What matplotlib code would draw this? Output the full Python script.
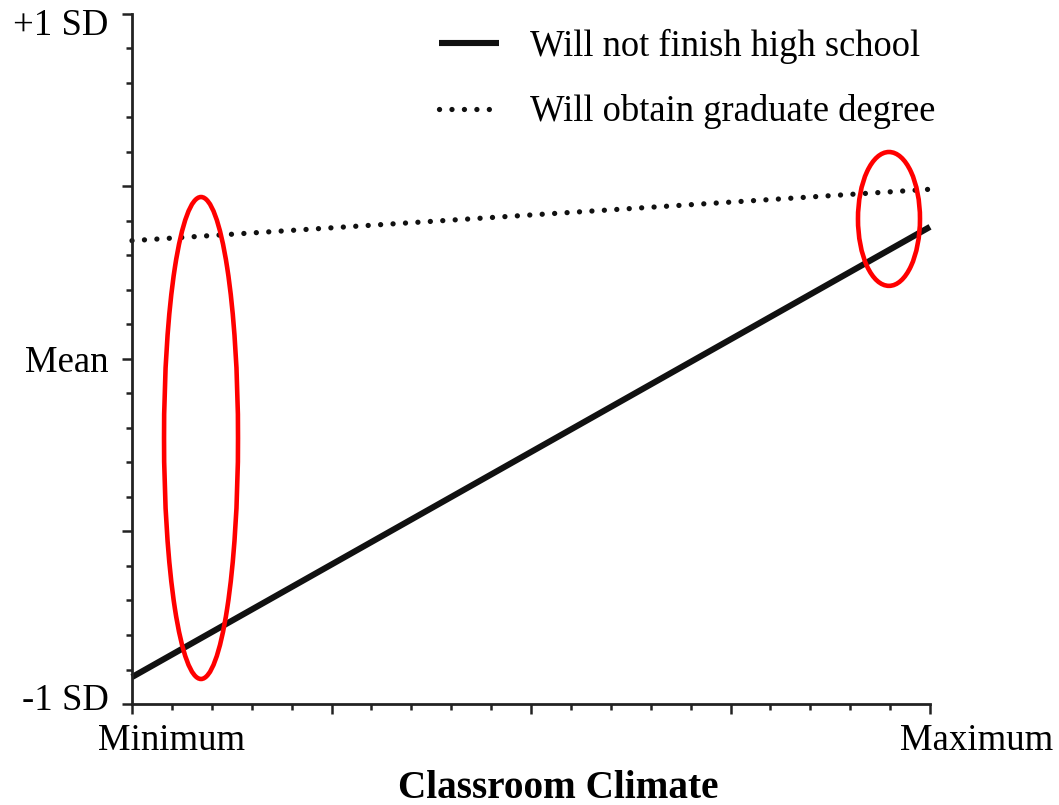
import matplotlib
matplotlib.use("Agg")
import matplotlib.pyplot as plt
import matplotlib.transforms as mtransforms
from matplotlib.patches import Ellipse

# climate range (0 = minimum, 1 = maximum) and predicted outcome in SD units
climate = [0.0, 1.0]
not_finish_hs = [-0.922, 0.383]
grad_degree = [0.343, 0.492]

x_tick_labels = ["Minimum", "Maximum"]
y_tick_values = [-1.0, 0.0, 1.0]
y_tick_labels = ["-1 SD", "Mean", "+1 SD"]

# highlighted regions: (center x, center y, width, height)
highlights = [(0.0865, -0.229, 0.0927, 1.397),
              (0.9486, 0.406, 0.0777, 0.388)]

plt.rcParams['font.family'] = ['Liberation Serif', 'DejaVu Serif']

fig = plt.figure(figsize=(10.59, 8.05), dpi=100)
ax = fig.add_axes([132/1059, 101/805, 798/1059, 690/805])

ax.plot(climate, not_finish_hs, color='#111111', lw=4.4, solid_capstyle='butt',
        label='Will not finish high school', clip_on=False)
ax.plot(climate, grad_degree, color='#111111', lw=3.8, dashes=(0.01, 2.35),
        dash_capstyle='round', label='Will obtain graduate degree', clip_on=False)

for cx, cy, w, h in highlights:
    ax.add_patch(Ellipse((cx, cy), w, h, fill=False, edgecolor='#ff0000', lw=3.3,
                         clip_on=False, zorder=5))

ax.set_xlim(0, 1)
ax.set_ylim(-1, 1)
for s in ['top', 'right']:
    ax.spines[s].set_visible(False)
for s in ['left', 'bottom']:
    ax.spines[s].set_linewidth(2.0)
    ax.spines[s].set_color('#222222')

ax.set_xticks([0, 0.25, 0.5, 0.75, 1.0])
ax.set_xticklabels([x_tick_labels[0], '', '', '', x_tick_labels[1]])
ax.set_xticks([i * 0.05 for i in range(21)], minor=True)
ax.set_yticks([-1, -0.5, 0, 0.5, 1])
ax.set_yticklabels([y_tick_labels[0], '', y_tick_labels[1], '', y_tick_labels[2]])
ax.set_yticks([i * 0.1 - 1 for i in range(21)], minor=True)

ax.tick_params(which='major', length=7, width=1.8, color='#222222', labelsize=26.5, pad=7)
ax.tick_params(which='minor', length=4.5, width=1.8, color='#222222')
ax.tick_params(axis='y', which='major', pad=10)

# nudge tick labels like the original
xl = ax.get_xticklabels()
offsets_x = {0: 40, 4: 47}
for i, dx in offsets_x.items():
    xl[i].set_transform(xl[i].get_transform() +
                        mtransforms.ScaledTranslation(dx/100, 0, fig.dpi_scale_trans))
yl = ax.get_yticklabels()
offsets_y = {0: 7, 4: -8}
for i, dy in offsets_y.items():
    yl[i].set_transform(yl[i].get_transform() +
                        mtransforms.ScaledTranslation(0, dy/100, fig.dpi_scale_trans))

ax.set_xlabel('Classroom Climate', fontsize=28.3, fontweight='bold')
ax.xaxis.set_label_coords(0.534, -0.095)

leg = ax.legend(loc='upper right', bbox_to_anchor=(1.034, 1.01), frameon=False,
                fontsize=26.3, handlelength=1.65, handletextpad=0.85, labelspacing=0.83,
                borderaxespad=0.2)

fig.savefig('out.png', dpi=100)
